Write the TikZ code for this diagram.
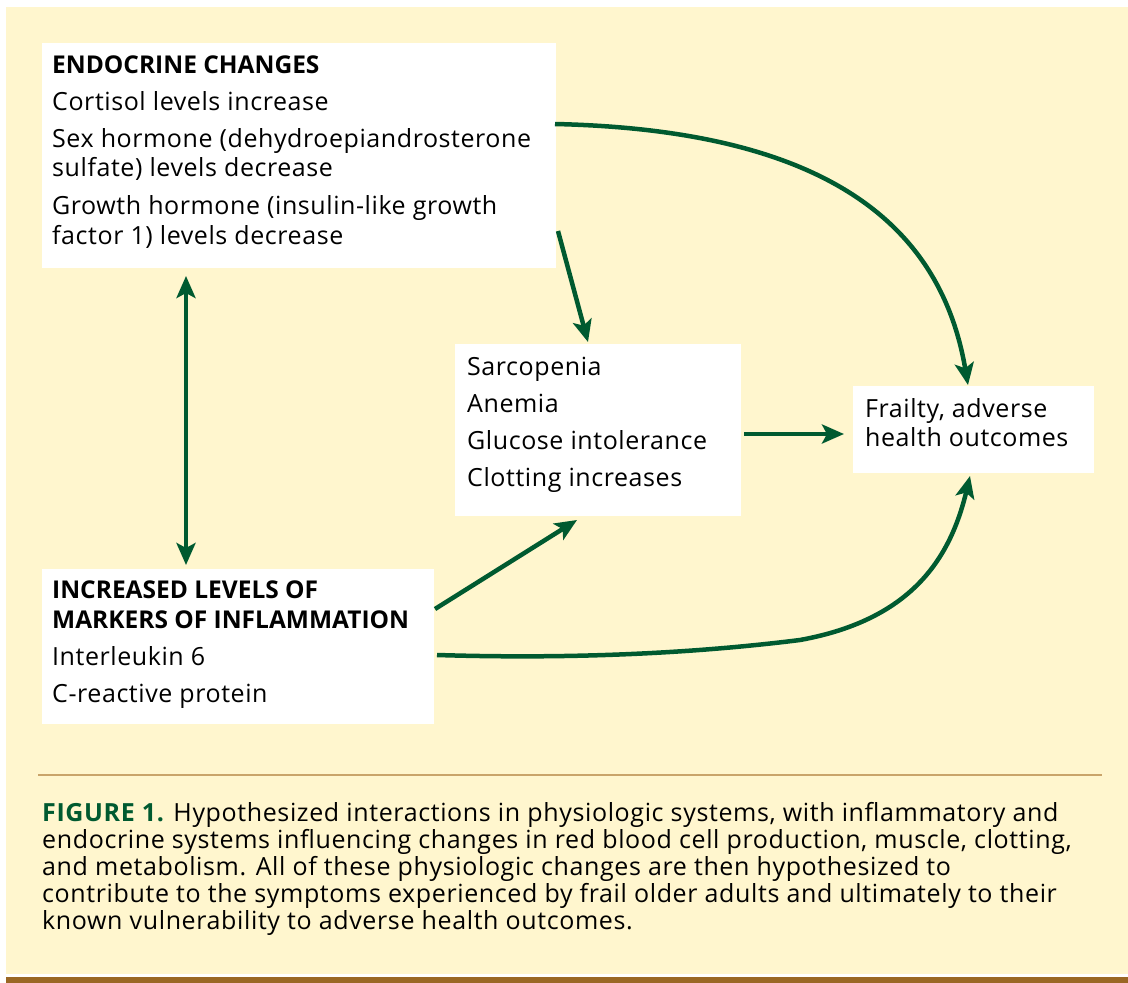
\documentclass[tikz,border=0pt]{standalone}
\usepackage{fontspec}
\setmainfont{Open Sans}
\newfontfamily\bodyf{Open Sans}[LetterSpace=2.3]
\newfontfamily\headf{Open Sans}
\newfontfamily\capf{Open Sans}[LetterSpace=2.5]
\usetikzlibrary{arrows.meta}
\definecolor{cream}{RGB}{255,246,206}
\definecolor{dgreen}{RGB}{0,90,48}
\definecolor{brownbar}{RGB}{154,103,36}
\definecolor{rulec}{RGB}{201,164,106}
\tikzset{
  wbox/.style={fill=white, draw=none},
  txt/.style={anchor=base west, inner sep=0pt, font=\bodyf\fontsize{25}{30}\selectfont},
  btxt/.style={anchor=base west, inner sep=0pt, font=\headf\fontsize{24.5}{30}\selectfont\bfseries},
  captxt/.style={anchor=base west, inner sep=0pt, font=\capf\fontsize{25}{27}\selectfont},
  conn/.style={draw=dgreen, line width=4.5pt, -{Stealth[length=22pt,width=19pt,inset=5pt]}},
  conn2/.style={draw=dgreen, line width=4.5pt, {Stealth[length=22pt,width=19pt,inset=5pt]}-{Stealth[length=22pt,width=19pt,inset=5pt]}}
}
\begin{document}
\begin{tikzpicture}[x=1pt,y=-1pt]
\useasboundingbox (0,0) rectangle (1128,983);
\fill[white] (0,0) rectangle (1128,983);
\fill[cream] (6,7) rectangle (1128,974);
\fill[brownbar] (6,977) rectangle (1128,983);
\draw[rulec, line width=1.2pt] (38,775) -- (1102,775);
% boxes
\fill[wbox] (42,43) rectangle (556,268);
\fill[wbox] (455,344) rectangle (741,516);
\fill[wbox] (853,386) rectangle (1094,473);
\fill[wbox] (42,569) rectangle (434,724);
% texts endocrine
\node[btxt] (e0) at (52,73) {ENDOCRINE CHANGES};
\node[txt] (e1) at (52,110) {Cortisol levels increase};
\node[txt] (e2) at (52,147) {Sex hormone (dehydroepiandrosterone};
\node[txt] (e3) at (52,176) {sulfate) levels decrease};
\node[txt] (e4) at (52,214) {Growth hormone (insulin-like growth};
\node[txt] (e5) at (52,244) {factor 1) levels decrease};
% middle
\node[txt] (m1) at (467,375) {Sarcopenia};
\node[txt] (m2) at (467,412) {Anemia};
\node[txt] (m3) at (467,449) {Glucose intolerance};
\node[txt] (m4) at (467,486) {Clotting increases};
% frailty
\node[txt] (f1) at (865,417) {Frailty, adverse};
\node[txt] (f2) at (865,446) {health outcomes};
% inflammation
\node[btxt] (i0) at (52,598) {INCREASED LEVELS OF};
\node[btxt] (i1) at (52,628) {MARKERS OF INFLAMMATION};
\node[txt] (i2) at (52,665) {Interleukin 6};
\node[txt] (i3) at (52,702) {C-reactive protein};
% connector endpoints
\coordinate (a1s) at (555,124);
\coordinate (a1e) at (968,385);
\coordinate (a2s) at (558,231);
\coordinate (a2e) at (588,342);
\coordinate (a3s) at (186,276);
\coordinate (a3e) at (186,565);
\coordinate (a4s) at (744,434);
\coordinate (a4e) at (844,434);
\coordinate (a5s) at (435,609);
\coordinate (a5e) at (577,520);
\coordinate (a6s) at (437,655);
\coordinate (a6e) at (970,476);
\draw[conn] (a1s) .. controls (820,130) and (940,220) .. (a1e);
\draw[conn] (a2s) -- (a2e);
\draw[conn2] (a3s) -- (a3e);
\draw[conn] (a4s) -- (a4e);
\draw[conn] (a5s) -- (a5e);
\draw[conn] (a6s) .. controls (600,660) and (720,650) .. (800,640) .. controls (910,620) and (950,560) .. (a6e);
% caption
\node[captxt] (c1) at (42,821) {\textcolor{dgreen}{\bfseries FIGURE 1.} Hypothesized interactions in physiologic systems, with inflammatory and};
\node[captxt] (c2) at (42,848) {endocrine systems influencing changes in red blood cell production, muscle, clotting,};
\node[captxt] (c3) at (42,875) {and metabolism. All of these physiologic changes are then hypothesized to};
\node[captxt] (c4) at (42,902) {contribute to the symptoms experienced by frail older adults and ultimately to their};
\node[captxt] (c5) at (42,929) {known vulnerability to adverse health outcomes.};
\end{tikzpicture}
\end{document}
